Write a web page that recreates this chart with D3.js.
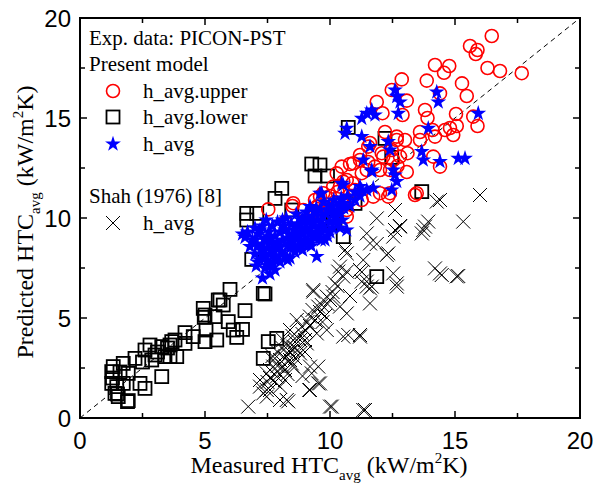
<!DOCTYPE html>
<html>
<head>
<meta charset="utf-8">
<script src="https://cdn.jsdelivr.net/npm/d3@7"></script>
<style>
  body { margin: 0; background: #fff; }
  svg { display: block; }
</style>
</head>
<body>
<svg id="chart" width="604" height="484"></svg>
<script>
// [measured, predicted] in kW/m2K
const upperPts = [
  [16.47,19.1],[15.6,18.6],[15.9,18.4],[15.83,18.2],[14.2,17.65],[14.77,17.6],[14.56,17.26],[16.3,17.5],
  [16.8,17.35],[17.67,17.24],[12.87,16.93],[13.87,16.87],[15.28,16.73],[15.47,16.1],[12.47,16.4],[13.07,15.87],
  [11.87,15.8],[12.1,15.24],[12.9,15.15],[13.8,15.4],[13.9,15.0],[15.04,15.2],[15.07,14.6],[15.73,15.07],
  [15.9,14.6],[14.4,16.23],[12.2,14.3],[12.67,14.07],[13.0,13.9],[13.6,14.3],[14.1,14.4],[14.2,14.07],
  [14.6,14.4],[14.93,14.15],[14.8,14.5],[13.6,13.9],[12.07,13.24],[12.47,13.4],[13.1,13.24],[12.8,13.07],
  [14.13,13.07],[14.4,12.57],[11.2,13.15],[11.53,13.57],[11.8,12.57],[10.47,12.57],[10.8,12.7],[10.93,12.74],
  [11.27,12.24],[11.53,12.8],[12.13,13.07],[12.53,12.9],[12.4,12.4],[13.07,12.3],[12.7,12.6],[10.13,11.57],
  [10.53,11.82],[9.6,11.07],[9.4,10.9],[10.0,11.1],[11.73,11.07],[12.33,11.07],[13.4,11.15],[10.9,11.1],
  [10.3,11.3],[11.6,13.75],[12.67,13.9],[11.2,12.9],[11.47,12.4],[12.0,12.4],[10.27,12.23],[10.67,11.9],
  [9.73,11.24],[12.0,11.24],[13.47,11.24],[9.47,10.57],[8.53,10.74],[7.53,10.43],[8.5,10.6],[10.4,11.57],
  [10.9,11.74],[11.27,10.9],[10.67,10.4],[9.87,10.07],[9.6,10.24],[9.53,10.57],[10.13,10.57],[10.67,10.07],
  [12.4,11.24],[8.93,10.4],[10.2,10.8],[11.0,11.4],[9.2,10.0],[8.2,9.8],[9.0,9.6]
];

const lowerPts = [
  [1.93,0.87],[1.53,1.07],[1.4,1.23],[1.47,1.57],[1.27,1.73],[1.73,1.73],[2.4,1.73],[2.6,1.48],
  [3.27,2.07],[1.93,2.23],[1.27,2.32],[1.33,2.57],[1.73,2.73],[2.2,2.98],[2.6,3.4],[2.8,3.65],
  [2.87,2.9],[3.0,3.15],[3.27,3.57],[3.4,3.07],[3.6,3.07],[3.87,3.07],[3.67,3.82],[4.2,4.27],
  [4.53,4.07],[4.2,3.73],[5.0,3.82],[5.04,4.4],[5.47,3.9],[4.93,5.48],[5.0,5.15],[5.4,5.07],
  [5.53,5.9],[6.0,6.43],[5.6,5.9],[5.73,5.65],[5.93,4.82],[6.13,4.4],[6.27,4.03],[6.6,5.37],
  [6.5,4.43],[4.97,5.03],[3.8,3.9],[3.6,3.65],[7.33,6.23],[7.53,3.82],[7.87,3.98],[7.33,2.98],
  [6.87,7.93],[1.9,0.82],[1.5,1.2],[1.6,2.3],[3.1,3.3],[2.5,2.8],[3.5,3.5],[1.3,2.0],
  [6.67,9.9],[7.07,10.23],[6.67,10.23],[7.8,10.98],[8.07,11.48],[8.47,10.4],[7.4,6.2],[10.2,9.73],
  [10.53,9.07],[11.87,7.07],[9.27,12.7],[9.6,12.65],[9.4,12.1],[9.9,12.1],[10.73,14.53],[12.2,13.98],
  [12.47,13.03],[13.67,11.32],[11.0,10.73],[10.13,9.82]
];

const avgPts = [
  [12.6,16.4],[12.67,16.07],[12.8,15.8],[12.73,15.23],[14.27,16.3],[14.33,15.8],[15.93,15.23],[11.27,14.98],
  [11.67,15.4],[11.8,15.15],[10.67,14.48],[10.6,14.23],[11.27,14.07],[11.6,13.57],[12.33,13.82],[12.4,13.4],
  [13.93,14.48],[13.67,13.32],[13.73,12.9],[14.4,12.82],[15.13,12.98],[15.4,12.98],[11.33,12.9],[11.67,12.32],
  [12.6,12.15],[12.67,11.82],[12.47,11.4],[10.47,11.73],[11.2,11.57],[11.47,11.4],[11.73,11.5],[11.0,11.3],
  [9.67,11.23],[10.53,10.73],[10.13,10.2],[10.67,9.4],[11.47,15.23],[12.53,12.4],[11.67,12.4],[11.27,11.4],
  [10.53,11.65],[9.6,11.23],[9.2,10.57],[12.7,16.1],
  [6.6,9.03],[6.8,8.57],[6.7,9.3],[6.9,8.9],[7.0,8.2],[7.05,7.6],[7.1,8.6],[7.15,9.2],
  [7.2,7.9],[7.25,8.4],[7.3,7.0],[7.3,9.6],[7.35,8.1],[7.4,7.5],[7.4,8.9],[7.45,9.9],
  [7.5,7.8],[7.5,8.5],[7.55,9.3],[7.6,7.2],[7.6,8.2],[7.65,8.8],[7.7,9.6],[7.7,7.7],
  [7.75,8.4],[7.8,9.1],[7.85,8.0],[7.9,9.8],[7.9,8.7],[8.0,7.8],[8.0,9.3],[8.05,8.3],
  [8.1,8.9],[8.15,9.6],[8.2,8.1],[8.25,10.0],[8.3,8.6],[8.35,9.2],[8.4,8.0],[8.45,9.7],
  [8.5,8.8],[8.55,9.4],[8.6,8.3],[8.65,10.2],[8.7,9.0],[8.75,9.6],[8.8,8.5],[8.85,9.9],
  [8.9,9.2],[8.95,8.7],[9.0,9.5],[9.05,10.3],[9.1,8.9],[9.15,9.8],[9.2,9.3],[9.25,8.6],
  [9.3,10.1],[9.35,9.6],[9.4,9.0],[9.45,10.5],[9.47,8.07],[9.5,9.9],[9.55,9.3],[9.6,10.4],
  [9.65,8.9],[9.7,9.7],[9.75,10.8],[9.8,9.4],[9.85,10.2],[9.9,9.1],[9.95,10.6],[10.0,9.8],
  [10.05,10.4],[10.1,9.5],[10.15,10.9],[10.2,10.1],[10.3,9.7],[10.35,10.6],[10.4,10.2],[10.45,11.0],
  [10.5,9.9],[10.55,10.5],[7.95,8.5],[8.2,9.4],[8.6,9.0],[9.0,8.9],[8.4,8.9],[7.6,9.0],
  [8.9,9.9],[9.3,9.1],[10.8,10.6],[11.0,10.9],[10.7,11.1],[11.2,11.1],
  [7.0,8.9],[7.2,9.4],[7.4,8.2],[7.5,9.0],[7.6,7.6],[7.8,8.6],[7.8,7.4],[8.0,8.6],
  [8.1,9.9],[8.3,9.0],[8.3,7.9],[8.5,9.1],[8.6,8.6],[8.7,9.7],[8.8,9.3],[8.9,8.4],
  [9.0,10.0],[9.1,9.4],[9.2,8.7],[9.3,9.8],[9.4,10.3],[9.5,9.2],[9.6,9.6],[9.7,10.1],
  [9.8,8.9],[9.9,10.4],[10.0,9.3],[10.1,10.6],[10.2,9.8],[10.3,10.3],[10.4,9.5],[7.1,7.8],
  [7.3,8.7],[7.7,8.1],[8.4,8.5],[8.8,8.9],[9.6,9.0],[10.5,10.7],[6.5,9.2],[7.0,9.5]
];

const shahPts = [
  [14.4,7.23],[15.13,7.1],[10.07,0.57],[11.4,0.4],[9.17,1.4],[9.6,1.73],[9.53,2.57],[9.27,2.23],
  [10.53,4.07],[10.73,4.15],[11.2,4.07],[11.6,5.73],[11.47,6.57],[11.27,6.82],[11.6,6.48],[11.27,7.3],
  [12.53,7.23],[12.67,6.73],[12.33,8.23],[11.87,8.7],[10.6,8.4],[10.67,7.32],[10.33,7.32],[10.13,6.07],
  [10.4,5.57],[10.67,5.23],[9.33,6.32],[9.67,5.65],[9.0,3.9],[16.0,11.15],[15.33,9.82],[14.27,10.82],
  [14.4,10.9],[13.93,9.82],[13.73,9.4],[12.8,9.57],[12.6,9.4],[12.6,10.4],[11.87,9.98],[11.47,9.23],
  [14.2,7.48],[14.47,7.15],[15.07,7.08],[13.8,9.57],[13.67,9.23],[12.8,9.6],[12.53,9.07],[12.27,8.15],
  [12.67,6.57],[11.6,8.73],[11.33,7.9],[11.2,7.4],[11.47,6.82],[11.67,6.57],[10.67,8.23],[10.4,7.57],
  [10.53,7.07],[10.2,6.73],[9.87,6.07],[9.33,6.4],[9.53,5.57],[9.2,5.07],[8.87,4.57],[8.67,4.07],
  [8.53,3.57],[8.27,3.23],[8.0,2.9],[7.73,2.57],[7.47,2.23],[7.87,2.07],[8.2,2.4],[8.47,2.73],
  [8.8,3.23],[9.07,3.73],[9.47,4.23],[9.87,4.4],[11.2,4.15],[9.2,2.57],[9.53,1.73],[9.2,1.4],
  [10.0,0.57],[11.33,0.4],[8.0,0.9],[8.33,0.83],[7.6,1.4],[7.33,1.23],[6.73,0.57],[7.47,1.07],
  [7.2,1.9],[7.6,2.4],[8.27,0.9],[8.53,3.4],[8.4,4.4],[8.13,3.9],[7.73,2.9],[7.2,1.57],
  [7.47,1.4],[8.0,1.57],[8.67,4.9],[8.9,4.2],[9.1,4.8],[8.3,3.6],[8.6,3.0],[7.9,3.3],
  [9.3,5.4],[9.8,5.1],[10.0,5.9],[8.9,2.1],[10.8,6.1],[10.3,6.6],[9.7,4.8],[8.1,2.6],
  [8.4,2.9],[7.8,1.8],
  [7.9,2.6],[8.2,3.0],[8.4,3.3],[8.5,2.6],[8.1,3.5],[8.6,3.8],[8.3,2.2],[7.6,2.0],
  [7.9,2.3],[8.7,3.4],[8.8,3.9],[9.0,4.4],[9.2,4.6],[9.4,4.9],[9.6,5.3],[9.9,5.7],
  [10.1,6.3],[7.5,1.8],[7.7,3.1],[8.5,4.1],[9.0,3.3],[8.2,1.9]
];

const tickValues = [0, 2.5, 5, 7.5, 10, 12.5, 15, 17.5, 20];
const labelValues = [0, 5, 10, 15, 20];

const SANS = '"Liberation Sans", Arial, sans-serif';
const SERIF = '"Liberation Serif", "Times New Roman", "DejaVu Serif", serif';

const svg = d3.select('#chart');
const x = d3.scaleLinear().domain([0, 20]).range([80, 580]);
const y = d3.scaleLinear().domain([0, 20]).range([418, 18]);

// 1:1 line
svg.append('line')
  .attr('x1', x(0)).attr('y1', y(0))
  .attr('x2', x(20)).attr('y2', y(20))
  .attr('stroke', '#000').attr('stroke-width', 1)
  .attr('stroke-dasharray', '5,4');

const plot = svg.append('g');

const cross = (cx, cy, r) => `M${cx - r},${cy - r}L${cx + r},${cy + r}M${cx - r},${cy + r}L${cx + r},${cy - r}`;
const star = d3.symbol().type(d3.symbolStar).size(78);

function drawCrosses(g, pts) {
  g.selectAll(null).data(pts).join('path')
    .attr('d', (d) => cross(x(d[0]), y(d[1]), 7))
    .attr('stroke', '#000').attr('stroke-width', 1).attr('fill', 'none');
}
function drawSquares(g, pts) {
  g.selectAll(null).data(pts).join('rect')
    .attr('x', (d) => x(d[0]) - 6.5).attr('y', (d) => y(d[1]) - 6.5)
    .attr('width', 13).attr('height', 13)
    .attr('fill', 'none').attr('stroke', '#000').attr('stroke-width', 1.8);
}
function drawCircles(g, pts) {
  g.selectAll(null).data(pts).join('circle')
    .attr('cx', (d) => x(d[0])).attr('cy', (d) => y(d[1])).attr('r', 6.5)
    .attr('fill', 'none').attr('stroke', '#ff0000').attr('stroke-width', 1.6);
}
function drawStars(g, pts) {
  g.selectAll(null).data(pts).join('path')
    .attr('d', star)
    .attr('transform', (d) => `translate(${x(d[0])},${y(d[1])})`)
    .attr('fill', '#0000ff');
}

drawCrosses(plot.append('g'), shahPts);
drawSquares(plot.append('g'), lowerPts);
drawCircles(plot.append('g'), upperPts);
drawStars(plot.append('g'), avgPts);

// frame and ticks
const frame = svg.append('g');
frame.append('rect')
  .attr('x', x(0)).attr('y', y(20))
  .attr('width', x(20) - x(0)).attr('height', y(0) - y(20))
  .attr('fill', 'none').attr('stroke', '#000').attr('stroke-width', 2);

tickValues.forEach((v) => {
  const len = v % 5 === 0 ? 7 : 5;
  frame.append('line').attr('x1', x(v)).attr('x2', x(v)).attr('y1', y(0)).attr('y2', y(0) - len);
  frame.append('line').attr('x1', x(v)).attr('x2', x(v)).attr('y1', y(20)).attr('y2', y(20) + len);
  frame.append('line').attr('y1', y(v)).attr('y2', y(v)).attr('x1', x(0)).attr('x2', x(0) + len);
  frame.append('line').attr('y1', y(v)).attr('y2', y(v)).attr('x1', x(20)).attr('x2', x(20) - len);
});
frame.selectAll('line').attr('stroke', '#000').attr('stroke-width', 1.5);

labelValues.forEach((v) => {
  svg.append('text').attr('font-family', SANS).attr('font-size', 24)
    .attr('x', x(v)).attr('y', y(0) + 31)
    .attr('text-anchor', 'middle').text(v);
  svg.append('text').attr('font-family', SANS).attr('font-size', 24)
    .attr('x', x(0) - 9).attr('y', y(v) + 9)
    .attr('text-anchor', 'end').text(v);
});

// axis titles
function title(sel, main) {
  sel.append('tspan').text(main);
  sel.append('tspan').attr('font-size', 15).attr('dy', 7).text('avg');
  sel.append('tspan').attr('dy', -7).text(' (kW/m');
  sel.append('tspan').attr('font-size', 15).attr('dy', -10).text('2');
  sel.append('tspan').attr('dy', 10).text('K)');
}
title(svg.append('text').attr('font-family', SERIF).attr('font-size', 24)
  .attr('x', 329).attr('y', 473).attr('text-anchor', 'middle'), 'Measured HTC');
title(svg.append('text').attr('font-family', SERIF).attr('font-size', 24)
  .attr('transform', 'translate(33,222) rotate(-90)').attr('text-anchor', 'middle'), 'Predicted HTC');

// legend
const lg = svg.append('g').attr('font-family', SERIF).attr('font-size', 21);
lg.append('text').attr('x', 89).attr('y', 45).text('Exp. data: PICON-PST');
lg.append('text').attr('x', 89).attr('y', 71).text('Present model');
lg.append('text').attr('x', 89).attr('y', 203).text('Shah (1976) [8]');
const legendRows = [
  { label: 'h_avg.upper', cy: 91, draw: drawCircles },
  { label: 'h_avg.lower', cy: 117, draw: drawSquares },
  { label: 'h_avg', cy: 144, draw: drawStars },
  { label: 'h_avg', cy: 223, draw: drawCrosses }
];
legendRows.forEach((r) => {
  r.draw(lg.append('g'), [[x.invert(113), y.invert(r.cy)]]);
  lg.append('text').attr('x', 143).attr('y', r.cy + 7).text(r.label);
});
</script>
</body>
</html>
